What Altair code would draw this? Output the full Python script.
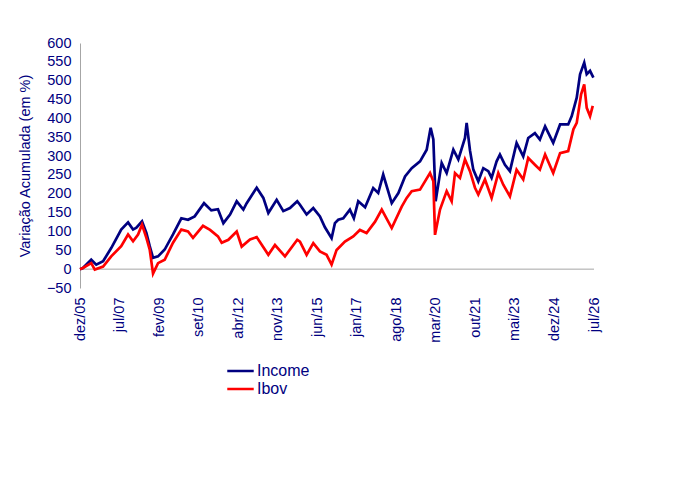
import altair as alt
import pandas as pd

# x = months since dez/05 (fractional), values in % accumulated
income_m = [0, 1.4, 5.4, 7.8, 11.1, 15.0, 19.8, 23.1, 25.5, 27.1, 29.8, 31.9, 33.5, 35.1, 37.5, 40.7, 44.7,
            48.7, 51.9, 55.1, 59.6, 63.1, 66.3, 68.9, 72.1, 75.3, 78.5, 80.1, 84.9, 88.1, 90.5, 94.5, 97.7,
            100.9, 104.4, 105.7, 108.9, 112.1, 115.3, 117.7, 120.9, 122.5, 124.1, 126.5, 129.7, 131.6, 133.7,
            137.0, 140.9, 143.3, 145.7, 149.8, 153.0, 156.2, 159.4, 163.4, 166.6, 168.5, 169.8, 170.9, 173.8,
            176.2, 179.4, 181.8, 185.0, 185.8, 187.4, 189.0, 191.4, 193.8, 196.2, 197.8, 200.2, 201.8, 204.2,
            206.6, 209.8, 213.0, 215.4, 218.6, 221.0, 223.5, 227.4, 230.7, 234.6, 236.3, 238.7, 240.3, 242.3,
            243.5, 245.1, 246.7]
income_v = [0, 3, 25, 12, 21, 56, 105, 124, 105, 110, 127, 96, 61, 30, 34, 52, 92,
            135, 131, 140, 175, 156, 159, 122, 145, 180, 158, 175, 216, 189, 149, 184, 154,
            162, 180, 171, 145, 162, 140, 111, 82, 122, 131, 135, 158, 135, 180,
            164, 215, 202, 251, 175, 202, 246, 268, 286, 317, 375, 344, 180, 282,
            255, 317, 291, 348, 388, 315, 264, 233, 268, 260, 242, 286, 304, 277,
            260, 335, 299, 348, 361, 344, 379, 335, 384, 384, 406, 455, 517, 548,
            517, 526, 508]

ibov_m = [0, 1.4, 5.4, 7.1, 11.1, 15.0, 19.8, 23.1, 25.5, 27.9, 29.8, 31.9, 33.5, 35.1, 37.5, 40.7, 44.7,
          48.7, 51.9, 54.3, 59.1, 62.5, 66.3, 68.1, 71.3, 75.3, 77.7, 81.7, 84.9, 90.5, 93.7, 98.5, 104.4,
          105.7, 108.9, 112.1, 115.3, 118.5, 120.9, 123.3, 127.3, 131.3, 134.5, 137.7, 141.8, 145.0, 149.8,
          154.6, 157.0, 159.4, 163.4, 168.2, 169.8, 170.6, 173.0, 176.2, 178.6, 180.2, 182.6, 185.0, 187.4,
          189.8, 191.4, 194.6, 197.8, 201.0, 203.4, 206.6, 209.8, 213.0, 215.4, 218.6, 221.0, 223.5, 227.4,
          230.7, 234.6, 237.1, 238.7, 240.8, 242.3, 243.5, 245.1, 246.4]
ibov_v = [0, 3, 16, -1, 7, 34, 61, 92, 74, 92, 118, 83, 52, -12, 16, 25, 70,
          105, 100, 83, 115, 104, 87, 70, 78, 100, 60, 79, 85, 38, 64, 34, 78,
          73, 38, 69, 47, 38, 12, 51, 73, 87, 104, 96, 126, 158, 109,
          166, 189, 207, 211, 255, 233, 91, 158, 207, 180, 255, 242, 291, 260,
          216, 198, 238, 189, 255, 224, 193, 264, 238, 295, 277, 264, 304, 255,
          308, 313, 371, 388, 464, 490, 428, 406, 433]

tick_labels = ["dez/05", "jul/07", "fev/09", "set/10", "abr/12", "nov/13", "jun/15",
               "jan/17", "ago/18", "mar/20", "out/21", "mai/23", "dez/24", "jul/26"]
tick_step = 19
y_ticks = list(range(-50, 601, 50))
series_names = ["Income", "Ibov"]
series_colors = ["#000080", "#FF0000"]

df = pd.concat([
    pd.DataFrame({"m": income_m, "v": income_v, "s": "Income"}),
    pd.DataFrame({"m": ibov_m, "v": ibov_v, "s": "Ibov"}),
])

navy = "#000080"
font = "Liberation Sans"
tick_vals = [i * tick_step for i in range(len(tick_labels))]
label_expr = "[" + ",".join("'" + t + "'" for t in tick_labels) + "][round(datum.value/%d)]" % tick_step
yscale = alt.Scale(domain=[-50, 600], nice=False)
yaxis = alt.Axis(values=y_ticks, title="Variação Acumulada (em %)",
                 grid=False, ticks=False, domainColor="#A6A6A6", labelPadding=9,
                 labelOverlap=False, labelFlush=False,
                 labelColor=navy, labelFont=font, labelFontSize=14.5,
                 titleColor=navy, titleFont=font, titleFontSize=14.5,
                 titleFontWeight="normal", titlePadding=14)

lines = alt.Chart(df).mark_line(strokeWidth=2.7, interpolate="linear").encode(
    x=alt.X("m:Q", scale=alt.Scale(domain=[0, tick_vals[-1]], nice=False, zero=False),
            axis=alt.Axis(values=tick_vals, labelExpr=label_expr, labelAngle=270, title=None,
                          domain=False, ticks=False, grid=False, labelPadding=9, labelOverlap=False,
                          labelColor=navy, labelFont=font, labelFontSize=14.5)),
    y=alt.Y("v:Q", scale=yscale, axis=yaxis),
    color=alt.Color("s:N", scale=alt.Scale(domain=series_names, range=series_colors),
                    legend=alt.Legend(title=None, orient="none", legendX=146, legendY=319,
                                      symbolType="stroke", symbolSize=700, symbolStrokeWidth=2.5,
                                      labelFontSize=16, labelColor=navy, labelFont=font,
                                      labelOffset=2, rowPadding=0, clipHeight=18)),
    order=alt.Order("s:N"),
)

zero = alt.Chart(pd.DataFrame({"y": [0]})).mark_rule(color="#A6A6A6", strokeWidth=1).encode(
    y=alt.Y("y:Q", scale=yscale, axis=yaxis))

chart = alt.layer(zero, lines).properties(
    width=514, height=245,
    autosize=alt.AutoSizeParams(type="none"),
    padding={"left": 72, "top": 35, "right": 95, "bottom": 182},
    background="white",
).configure_view(strokeWidth=0)

chart.save("out.html", embed_options={"renderer": "svg", "actions": False})
